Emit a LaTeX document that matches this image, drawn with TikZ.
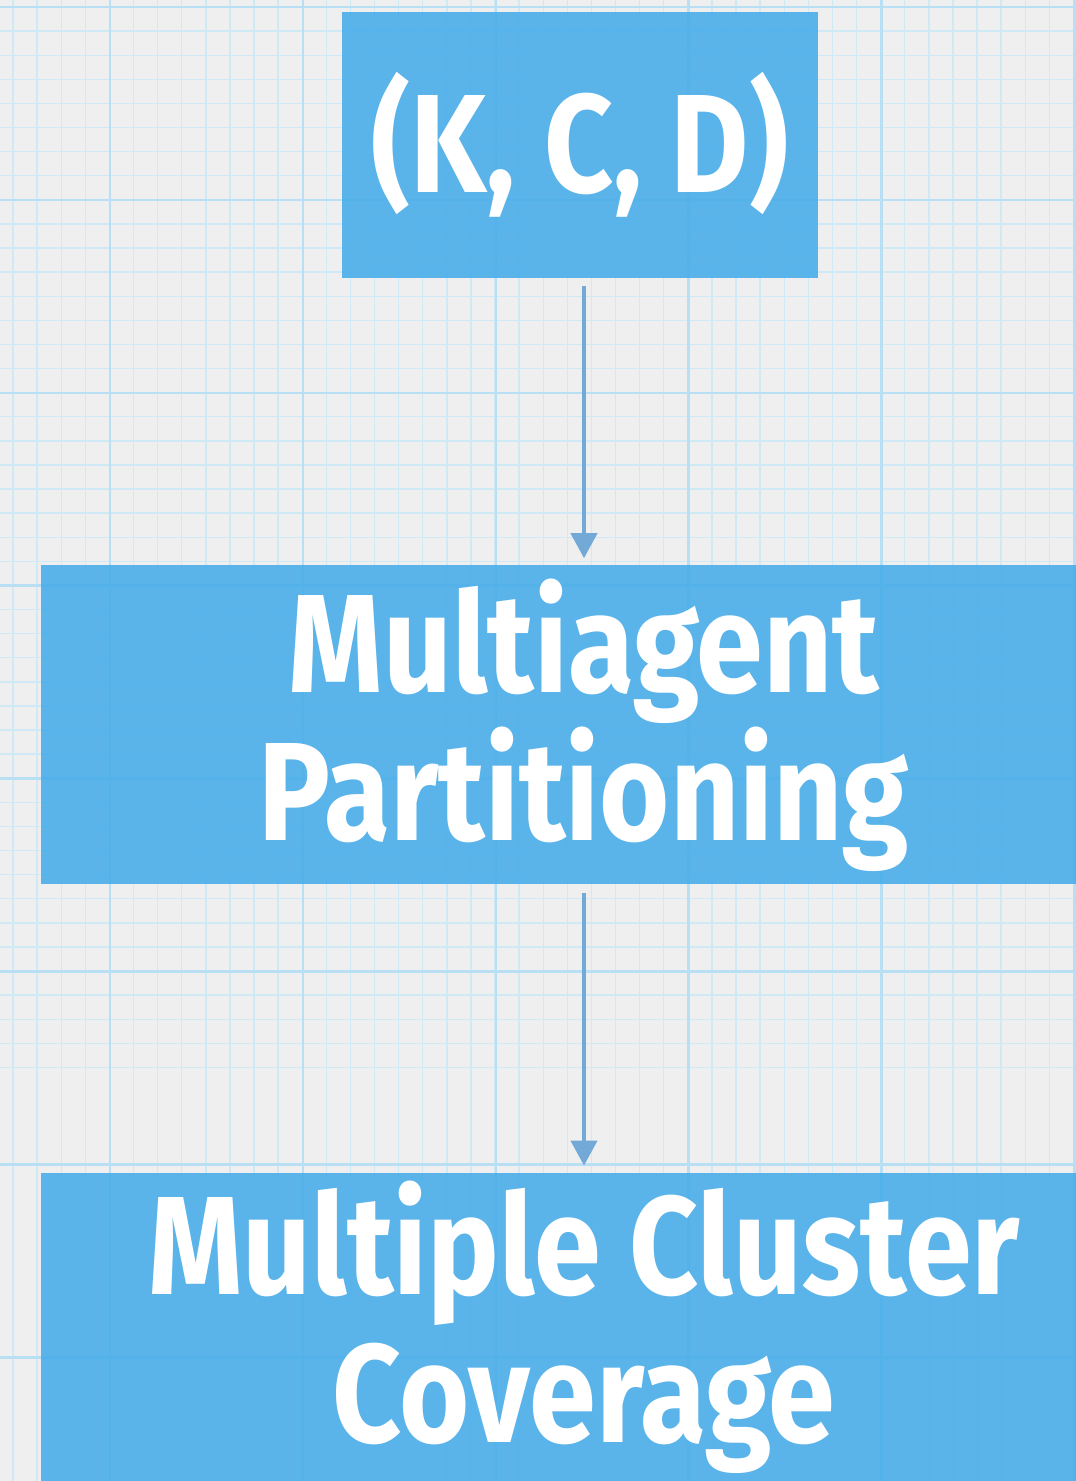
\documentclass[tikz,border=0pt]{standalone}
\usepackage{fontspec}
\setmainfont{Fira Sans}[FakeStretch=0.86]
\usetikzlibrary{arrows.meta,positioning}

\definecolor{paper}{HTML}{EFEFEF}
\definecolor{gridminor}{HTML}{CFE9F6}
\definecolor{gridmajor}{HTML}{B8DFF3}
\definecolor{boxblue}{HTML}{4AAEEA}
\definecolor{arrowblue}{HTML}{72A9D6}

% large block lettering, fixed line pitch
\newcommand\blockfont{\bfseries\fontsize{140}{148}\selectfont\lineskiplimit=-200pt\relax}

\begin{document}
\begin{tikzpicture}[
  x=1pt, y=-1pt,
  node distance=287pt,
  box/.style={rectangle,fill=boxblue,fill opacity=0.9,text opacity=1,text=white,
    align=center,inner sep=0pt,font=\blockfont},
  flow/.style={draw=arrowblue,line width=4pt,-{Triangle[width=26pt,length=25pt]}}
]
\useasboundingbox (0,0) rectangle (1076,1481);
\clip (0,0) rectangle (1076,1481);

% graph paper
\fill[paper] (0,0) rectangle (1076,1481);
\foreach \k in {0,...,44} {
  \draw[gridminor,line width=1.4pt] ({13+24.1*\k},0) -- ({13+24.1*\k},1481);
  \draw[gridminor,line width=1.4pt] (0,{7+24.1*\k}) -- (1076,{7+24.1*\k});
}
\foreach \k in {0,...,7} {
  \draw[gridmajor,line width=2.6pt] ({110+192.9*(\k-1)},0) -- ({110+192.9*(\k-1)},1481);
  \draw[gridmajor,line width=2.6pt] (0,{7+192.9*\k}) -- (1076,{7+192.9*\k});
}

% blocks
\node[box,minimum width=476pt,minimum height=266pt] (kcd) at (580,145) {(K, C, D)};
\node[box,minimum width=1086pt,minimum height=319pt,below=of kcd,xshift=4pt] (part)
  {Multiagent\\Partitioning};
\node[box,minimum width=1086pt,minimum height=309pt,below=288pt of part] (cover)
  {Multiple Cluster\\Coverage};

% connectors
\draw[flow,shorten <=8pt,shorten >=7pt] (kcd.south -| part.north) -- (part.north);
\draw[flow,shorten <=8pt,shorten >=7pt] (part.south) -- (cover.north);
\end{tikzpicture}
\end{document}
